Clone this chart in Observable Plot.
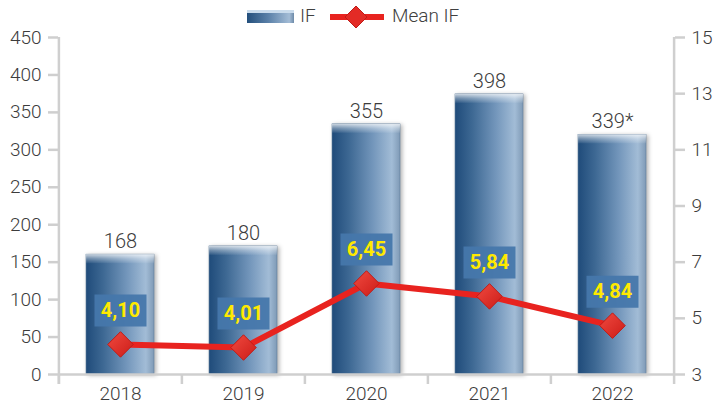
<!DOCTYPE html>
<html><head><meta charset="utf-8">
<script src="https://cdn.jsdelivr.net/npm/d3@7"></script>
<script src="https://cdn.jsdelivr.net/npm/@observablehq/plot@0.6"></script>
<style>
body{margin:0;background:#fff;font-family:Roboto,sans-serif;}
#legend{position:relative;height:26px;width:720px;color:#404040;font-size:19px;font-weight:300;}
#legend .sw{position:absolute;left:247px;top:10px;width:47px;height:13px;background:linear-gradient(to right,#234f7c,#5a80a8 45%,#a3bcd6 90%,#6d8aa8);border-top:3px solid #c9dbec;box-sizing:border-box;}
#legend .t{position:absolute;top:3px;line-height:26px;}
#legend svg{position:absolute;left:328px;top:4px;}
#chart svg{overflow:visible;}
</style></head><body>
<div id="legend">
  <div class="sw"></div>
  <div class="t" style="left:300px">IF</div>
  <svg width="58" height="26"><line x1="2" y1="13" x2="56" y2="13" stroke="#e8231f" stroke-width="6"/><path d="M28,2 L39,13 L28,24 L17,13Z" fill="#e32b26" stroke="#c01b17"/></svg>
  <div class="t" style="left:392px">Mean IF</div>
</div>
<div id="chart"></div>
<script>
const years = ["2018", "2019", "2020", "2021", "2022"];
const ifBars = [160, 171, 334, 374, 320];
const ifLabels = ["168", "180", "355", "398", "339*"];
const meanIF = [4.07, 3.96, 6.24, 5.78, 4.74];
const meanLabels = ["4,10", "4,01", "6,45", "5,84", "4,84"];
const leftTicks = [0, 50, 100, 150, 200, 250, 300, 350, 400, 450];
const rightTicks = [3, 5, 7, 9, 11, 13, 15];

const leftMax = 450, rMin = 3, rMax = 15;
const toLeft = v => (v - rMin) / (rMax - rMin) * leftMax;
const fromLeft = d => Math.round(d / leftMax * (rMax - rMin) + rMin);

const data = years.map((y, i) => ({year: y, h: ifBars[i], label: ifLabels[i], m: toLeft(meanIF[i]), ml: meanLabels[i]}));

const W = 720, mL = 58, mR = 46;
const half = (W - mL - mR) / years.length / 2;
const tickU = 10 / ((378 - 11 - 30) / leftMax);
const boxSymbol = {draw(ctx) { ctx.moveTo(-26, -16); ctx.lineTo(26, -16); ctx.lineTo(26, 16); ctx.lineTo(-26, 16); ctx.closePath(); }};
const axisCol = "#cfcfcf", textCol = "#3c3c3c";

const plot = Plot.plot({
  width: W, height: 378, marginTop: 11, marginBottom: 30, marginLeft: mL, marginRight: mR,
  x: {type: "band", domain: years, paddingInner: 0.45, paddingOuter: 0.225, axis: null, label: null},
  y: {domain: [0, leftMax], axis: null, label: null},
  style: {fontFamily: "Roboto, sans-serif", fontSize: "19px", fontWeight: 300, color: textCol, overflow: "visible"},
  marks: [
    Plot.barY(data, {x: "year", y: "h", fill: "url(#barGrad)", stroke: "#5f7d9c", strokeWidth: 0.6}),
    Plot.barY(data, {x: "year", y1: "h", y2: "h", insetBottom: -9, fill: "url(#bevel)"}),
    Plot.ruleY([0], {stroke: axisCol, strokeWidth: 2.5}),
    Plot.ruleX(years, {x: d => d, dx: -half, y1: 0, y2: -tickU, stroke: axisCol, strokeWidth: 2.5}),
    Plot.ruleX([years[0]], {x: d => d, dx: -half, y1: -tickU, y2: leftMax, stroke: axisCol, strokeWidth: 2.5}),
    Plot.ruleX([years[years.length - 1]], {x: d => d, dx: half, y1: -tickU, y2: leftMax, stroke: axisCol, strokeWidth: 2.5}),
    Plot.axisY({anchor: "left", label: null, ticks: leftTicks, tickSize: 10, tickPadding: 7, stroke: axisCol, strokeWidth: 2.5, fill: textCol, fontSize: 19}),
    Plot.axisY({anchor: "right", label: null, ticks: rightTicks.map(toLeft), tickFormat: fromLeft, tickSize: 10, tickPadding: 7, stroke: axisCol, strokeWidth: 2.5, fill: textCol, fontSize: 19}),
    Plot.axisX({label: null, ticks: years, tickSize: 0, tickPadding: 12, fill: textCol, fontSize: 19}),
    Plot.text(data, {x: "year", y: "h", text: "label", dy: -13, fill: textCol, fontSize: 20}),
    Plot.line(data, {x: "year", y: "m", stroke: "#e8231f", strokeWidth: 6}),
    Plot.dot(data, {x: "year", y: "m", symbol: "diamond2", r: 11.5, fill: "url(#dia)", stroke: "#c01b17", strokeWidth: 1}),
    Plot.dot(data, {x: "year", y: "m", dy: -34, symbol: boxSymbol, r: 1, fill: "#4677ab", fillOpacity: 0.95}),
    Plot.text(data, {x: "year", y: "m", dy: -34, text: "ml", fill: "#ffe900", fontWeight: "bold", fontSize: 20})
  ]
});

const ns = "http://www.w3.org/2000/svg";
const defs = document.createElementNS(ns, "defs");
defs.innerHTML = `
<linearGradient id="barGrad" x1="0" y1="0" x2="1" y2="0">
  <stop offset="0" stop-color="#1f4b7a"/>
  <stop offset="0.25" stop-color="#3d6893"/>
  <stop offset="0.6" stop-color="#7396bb"/>
  <stop offset="0.88" stop-color="#a2bcd6"/>
  <stop offset="1" stop-color="#7f9ab6"/>
</linearGradient>
<linearGradient id="bevel" x1="0" y1="0" x2="0" y2="1">
  <stop offset="0" stop-color="#ffffff" stop-opacity="0.75"/>
  <stop offset="0.5" stop-color="#ffffff" stop-opacity="0.35"/>
  <stop offset="1" stop-color="#ffffff" stop-opacity="0.05"/>
</linearGradient>
<linearGradient id="dia" x1="0" y1="0" x2="1" y2="1">
  <stop offset="0" stop-color="#f04a40"/>
  <stop offset="1" stop-color="#cc1c18"/>
</linearGradient>`;
plot.insertBefore(defs, plot.firstChild);
const barG = plot.querySelector('g[aria-label="bar"]');
if (barG) barG.style.filter = "drop-shadow(2px 1px 2px rgba(0,0,0,0.3))";
document.getElementById("chart").appendChild(plot);
</script>
</body></html>
